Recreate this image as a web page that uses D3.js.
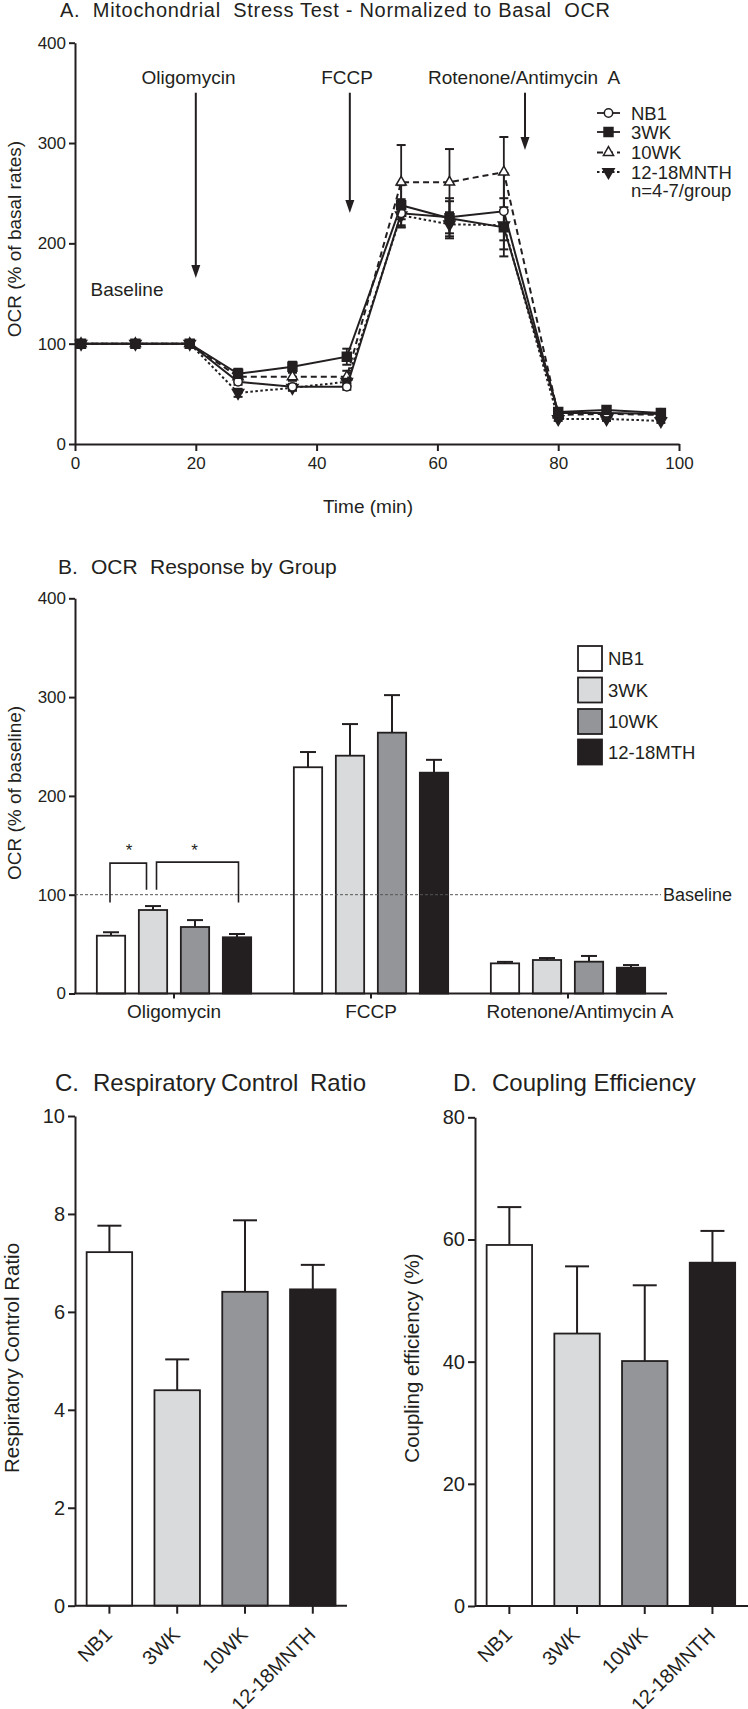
<!DOCTYPE html>
<html><head><meta charset="utf-8">
<script src="https://cdn.jsdelivr.net/npm/d3@7"></script>
<style>
body{margin:0;background:#fff}
svg text{font-family:"Liberation Sans",Arial,Helvetica,sans-serif;fill:#231f20}
</style>
</head><body>
<svg id="c" width="748" height="1709" xmlns="http://www.w3.org/2000/svg"></svg>
<script>
// ---------- DATA ----------
// Panel A: time course (% of basal OCR)
const times = [1, 10, 19, 27, 36, 45, 54, 62, 71, 80, 88, 97];
const seriesNames = ["NB1", "3WK", "10WK", "12-18MNTH"];
const nb1Vals  = [100, 100, 100, 62, 57, 57, 230, 226, 232, 31, 31, 30];
const wk3Vals  = [100, 100, 100, 70, 77, 87, 238, 225, 216, 32, 34, 31];
const wk10Vals = [100, 100, 100, 67, 67, 67, 261, 261, 271, 29, 30, 29];
const mnthVals = [100, 100, 100, 51, 56, 62, 228, 219, 218, 25, 25, 23];
const nb1Sem   = [0, 0, 0, 3, 3, 3, 14, 16, 38, 3, 3, 2];
const wk3Sem   = [0, 0, 0, 5, 5, 8, 20, 20, 29, 3, 3, 3];
const wk10Sem  = [0, 0, 0, 5, 4, 6, 37, 33, 35, 3, 3, 3];
const mnthSem  = [0, 0, 0, 4, 3, 4, 12, 12, 15, 2, 2, 2];
const injections = ["Oligomycin", "FCCP", "Rotenone/Antimycin  A"];
const injectionTimes = [20, 45.5, 74.5];
const xTicksA = [0, 20, 40, 60, 80, 100];
const yTicksA = [0, 100, 200, 300, 400];

// Panel B: response by group
const treatments = ["Oligomycin", "FCCP", "Rotenone/Antimycin A"];
const barGroups = ["NB1", "3WK", "10WK", "12-18MTH"];
const bNB1  = [58.5, 229, 30.5];
const b3WK  = [84.5, 240.7, 33.9];
const b10WK = [67.3, 264, 32.2];
const bMTH  = [56.9, 223.5, 26.1];
const bNB1Sem  = [3.5, 15.4, 1.5];
const b3WKSem  = [4, 32, 2];
const b10WKSem = [7, 38, 5.8];
const bMTHSem  = [3.3, 13, 2.7];
const yTicksB = [0, 100, 200, 300, 400];

// Panel C & D
const cdGroups = ["NB1", "3WK", "10WK", "12-18MNTH"];
const rcr    = [7.22, 4.40, 6.41, 6.46];
const rcrSem = [0.54, 0.63, 1.46, 0.50];
const ce     = [59.1, 44.6, 40.1, 56.2];
const ceSem  = [6.2, 11.0, 12.4, 5.2];
const yTicksC = [0, 2, 4, 6, 8, 10];
const yTicksD = [0, 20, 40, 60, 80];

// ---------- STYLE ----------
const INK = "#231f20";
const fills = ["#ffffff", "#d9dadb", "#939598", "#231f20"];

const svg = d3.select("#c");

function styleAxis(g, fs) {
  g.attr("font-size", fs);
  g.select(".domain").attr("stroke", INK).attr("stroke-width", 2);
  g.selectAll(".tick line").attr("stroke", INK).attr("stroke-width", 2);
  g.selectAll(".tick text").style("font-size", fs + "px");
}
function label(x, y, s, fs, anchor, rot) {
  const t = svg.append("text").attr("font-size", fs).style("font-size", fs + "px")
    .attr("text-anchor", anchor || "start").style("white-space", "pre").text(s);
  if (rot) t.attr("transform", `translate(${x},${y}) rotate(${rot})`).attr("dy", "0.35em");
  else t.attr("x", x).attr("y", y);
  return t;
}
function title(parts, y, fs) {
  const t = svg.append("text").style("font-size", fs + "px").attr("y", y);
  parts.forEach(p => t.append("tspan").attr("x", p[0]).text(p[1]));
}

// ================= PANEL A =================
const xA = d3.scaleLinear().domain([0, 100]).range([75, 679]);
const yA = d3.scaleLinear().domain([0, 400]).range([444, 42.7]);

label(60, 17, "A.  Mitochondrial  Stress Test - Normalized to Basal  OCR", 20, "start")
  .attr("textLength", 550).attr("lengthAdjust", "spacing");

const gxA = svg.append("g").attr("transform", "translate(0,444)")
  .call(d3.axisBottom(xA).tickValues(xTicksA).tickSize(7).tickSizeOuter(0).tickPadding(6));
styleAxis(gxA, 17);
const gyA = svg.append("g").attr("transform", "translate(75,0)")
  .call(d3.axisLeft(yA).tickValues(yTicksA).tickSize(6).tickSizeOuter(0).tickPadding(3));
styleAxis(gyA, 17);

label(368, 513, "Time (min)", 19, "middle");
label(14, 239, "OCR (% of basal rates)", 19, "middle", -90);
label(90.6, 296, "Baseline", 19, "start");

// injection arrows
const arrowTips = [278, 213, 150];
injections.forEach((name, i) => {
  const ax = xA(injectionTimes[i]);
  label(i === 2 ? 428 : (i === 0 ? 188.5 : 347), 83.5, name, 19, i === 2 ? "start" : "middle");
  const tip = arrowTips[i];
  svg.append("line").attr("x1", ax).attr("x2", ax).attr("y1", 92.7).attr("y2", tip - 8)
    .attr("stroke", INK).attr("stroke-width", 2);
  svg.append("path").attr("d", `M${ax - 4.5},${tip - 13}L${ax + 4.5},${tip - 13}L${ax},${tip}Z`).attr("fill", INK);
});

const seriesA = [
  {name: "10WK", v: wk10Vals, s: wk10Sem, dash: "6,4", sym: d3.symbolTriangle, size: 45, fill: "#fff", rot: 0},
  {name: "12-18MNTH", v: mnthVals, s: mnthSem, dash: "2.5,2.5", sym: d3.symbolTriangle, size: 55, fill: INK, rot: 180},
  {name: "NB1", v: nb1Vals, s: nb1Sem, dash: null, sym: d3.symbolCircle, size: 55, fill: "#fff", rot: 0},
  {name: "3WK", v: wk3Vals, s: wk3Sem, dash: null, sym: d3.symbolSquare, size: 80, fill: INK, rot: 0}
];
const lineA = d3.line().x((d, i) => xA(times[i])).y(d => yA(d));
seriesA.forEach(ser => {
  ser.v.forEach((v, i) => {
    const e = ser.s[i]; if (!e) return;
    const cx = xA(times[i]);
    svg.append("line").attr("x1", cx).attr("x2", cx).attr("y1", yA(v - e)).attr("y2", yA(v + e)).attr("stroke", INK).attr("stroke-width", 1.8);
    [v - e, v + e].forEach(w => svg.append("line").attr("x1", cx - 4.5).attr("x2", cx + 4.5).attr("y1", yA(w)).attr("y2", yA(w)).attr("stroke", INK).attr("stroke-width", 2));
  });
});
seriesA.forEach(ser => {
  svg.append("path").datum(ser.v).attr("d", lineA).attr("fill", "none").attr("stroke", INK)
    .attr("stroke-width", 2).attr("stroke-dasharray", ser.dash);
  svg.selectAll(null).data(ser.v).join("path")
    .attr("d", d3.symbol(ser.sym, ser.size))
    .attr("transform", (d, i) => `translate(${xA(times[i])},${yA(d)}) rotate(${ser.rot})`)
    .attr("fill", ser.fill).attr("stroke", INK).attr("stroke-width", 1.5);
});

// legend A
const legY = [113, 132, 152.5, 172];
const legOrder = ["NB1", "3WK", "10WK", "12-18MNTH"];
legOrder.forEach((nm, i) => {
  const ser = seriesA.find(s => s.name === nm);
  svg.append("line").attr("x1", 597).attr("x2", 620).attr("y1", legY[i]).attr("y2", legY[i])
    .attr("stroke", INK).attr("stroke-width", 1.8).attr("stroke-dasharray", ser.dash);
  svg.append("path").attr("d", d3.symbol(ser.sym, ser.size)())
    .attr("transform", `translate(608.5,${legY[i]}) rotate(${ser.rot})`)
    .attr("fill", ser.fill).attr("stroke", INK).attr("stroke-width", 1.5);
  label(631, legY[i] + 6.6, nm, 18.5, "start");
});
label(631, 190 + 6.6, "n=4-7/group", 18.5, "start");

// ================= PANEL B =================
const yB = d3.scaleLinear().domain([0, 400]).range([993.5, 598.3]);
const xB = d3.scaleBand().domain(treatments).range([75.5, 666.5]);
const xBi = d3.scaleBand().domain(barGroups).range([14.5, 182.5]).paddingInner(0.326).paddingOuter(0.163);
const bVals = [bNB1, b3WK, b10WK, bMTH];
const bSems = [bNB1Sem, b3WKSem, b10WKSem, bMTHSem];

title([[58, "B."], [91, "OCR"], [150, "Response by Group"]], 573.5, 21);

const gyB = svg.append("g").attr("transform", "translate(75,0)")
  .call(d3.axisLeft(yB).tickValues(yTicksB).tickSize(6).tickSizeOuter(0).tickPadding(3));
styleAxis(gyB, 17);
label(14, 793, "OCR (% of baseline)", 19, "middle", -90);

barGroups.forEach((gname, gi) => {
  treatments.forEach((t, ti) => {
    const x0 = xB(t) + xBi(gname), w = xBi.bandwidth(), v = bVals[gi][ti], e = bSems[gi][ti];
    const cx = x0 + w / 2;
    svg.append("line").attr("x1", cx).attr("x2", cx).attr("y1", yB(v)).attr("y2", yB(v + e)).attr("stroke", INK).attr("stroke-width", 2);
    svg.append("line").attr("x1", cx - 8).attr("x2", cx + 8).attr("y1", yB(v + e)).attr("y2", yB(v + e)).attr("stroke", INK).attr("stroke-width", 2);
    svg.append("rect").attr("x", x0).attr("y", yB(v)).attr("width", w).attr("height", yB(0) - yB(v))
      .attr("fill", fills[gi]).attr("stroke", INK).attr("stroke-width", 1.8);
  });
});
// baseline dashed
svg.append("line").attr("x1", 75).attr("x2", 661).attr("y1", yB(100)).attr("y2", yB(100))
  .attr("stroke", "#555").attr("stroke-width", 1).attr("stroke-dasharray", "3,2");
label(663, yB(100) + 6.5, "Baseline", 18, "start");

const gxB = svg.append("g").attr("transform", `translate(0,${yB(0)})`)
  .call(d3.axisBottom(xB).tickSize(5).tickSizeOuter(0).tickPadding(6));
styleAxis(gxB, 19);
gxB.select(".domain").attr("d", `M74,0H667`);
gxB.selectAll(".tick text").attr("dx", (d, i) => i === 2 ? 12 : 0);

// significance brackets (Oligomycin)
const oc = xB("Oligomycin");
const bc = g => oc + xBi(g) + xBi.bandwidth() / 2;
function bracket(xl, xr, yl, yr, ytop) {
  svg.append("path").attr("d", `M${xl},${yl}V${ytop}H${xr}V${yr}`).attr("fill", "none").attr("stroke", INK).attr("stroke-width", 1.6);
}
bracket(bc("NB1") - 1, bc("3WK") - 6.5, yB(92), yB(105), yB(132));
bracket(bc("3WK") + 3.5, bc("12-18MTH") + 1.5, yB(105), yB(92), yB(133));
label((bc("NB1") + bc("3WK")) / 2 - 3, yB(148) + 9, "*", 17, "middle");
label((bc("3WK") + bc("12-18MTH")) / 2 - 0.5, yB(148) + 9, "*", 17, "middle");

// legend B
const legBY = [658.5, 690, 721.5, 752];
barGroups.forEach((g, i) => {
  svg.append("rect").attr("x", 578).attr("y", legBY[i] - 12.5).attr("width", 24).attr("height", 25)
    .attr("fill", fills[i]).attr("stroke", INK).attr("stroke-width", 1.8);
  label(608, legBY[i] + 6.7, g, 18.5, "start");
});

// ================= PANEL C & D =================
function barPanel(opts) {
  const y = d3.scaleLinear().domain(opts.domain).range(opts.yRange);
  const x = d3.scaleBand().domain(cdGroups).range(opts.xRange).paddingInner(0.329).paddingOuter(0.1645);
  title(opts.title, 1091, 24);
  cdGroups.forEach((g, i) => {
    const x0 = x(g), w = x.bandwidth(), v = opts.vals[i], e = opts.sems[i], cx = x0 + w / 2;
    svg.append("line").attr("x1", cx).attr("x2", cx).attr("y1", y(v)).attr("y2", y(v + e)).attr("stroke", INK).attr("stroke-width", 2);
    svg.append("line").attr("x1", cx - 12).attr("x2", cx + 12).attr("y1", y(v + e)).attr("y2", y(v + e)).attr("stroke", INK).attr("stroke-width", 2);
    svg.append("rect").attr("x", x0).attr("y", y(v)).attr("width", w).attr("height", y(0) - y(v))
      .attr("fill", fills[i]).attr("stroke", INK).attr("stroke-width", 1.8);
  });
  const gy = svg.append("g").attr("transform", `translate(${opts.axisX},0)`)
    .call(d3.axisLeft(y).tickValues(opts.ticks).tickSize(7).tickSizeOuter(0).tickPadding(3));
  styleAxis(gy, 20);
  const gx = svg.append("g").attr("transform", `translate(0,${y(0)})`)
    .call(d3.axisBottom(x).tickSize(8).tickSizeOuter(0));
  styleAxis(gx, 20);
  gx.select(".domain").attr("d", `M${opts.axisX},0H${opts.xEnd}`);
  gx.selectAll(".tick text").attr("y", null).attr("dy", null)
    .attr("text-anchor", "end").attr("transform", "translate(4,30) rotate(-45)");
  label(opts.ylabX, 1358, opts.ylabel, 20.5, "middle", -90);
}
barPanel({domain: [0, 10], yRange: [1605.7, 1116], xRange: [75.5, 346.7], axisX: 75, xEnd: 347,
  vals: rcr, sems: rcrSem, ticks: yTicksC, ylabel: "Respiratory Control Ratio", ylabX: 11.5,
  title: [[55, "C."], [93, "Respiratory"], [221, "Control"], [310, "Ratio"]]});
barPanel({domain: [0, 80], yRange: [1606, 1117.3], xRange: [475.5, 746.3], axisX: 475, xEnd: 748,
  vals: ce, sems: ceSem, ticks: yTicksD, ylabel: "Coupling efficiency (%)", ylabX: 412,
  title: [[453, "D."], [492, "Coupling Efficiency"]]});
</script>
</body></html>
